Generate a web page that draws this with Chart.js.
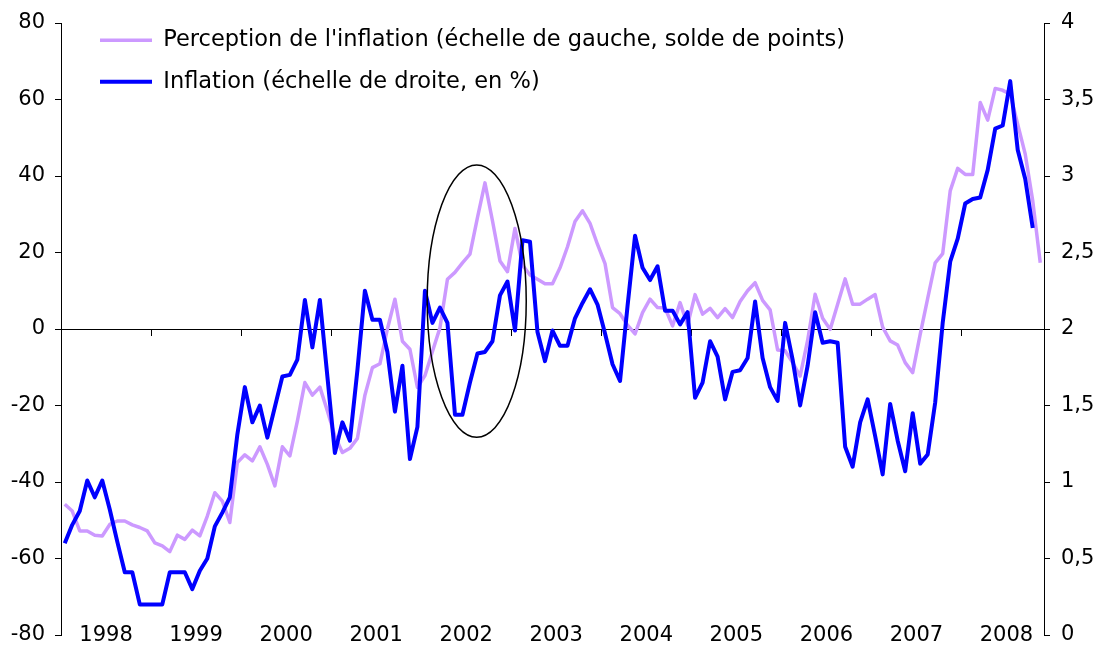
<!DOCTYPE html>
<html>
<head>
<meta charset="utf-8">
<script src="https://cdn.jsdelivr.net/npm/chart.js@4.4.0/dist/chart.umd.min.js"></script>
<style>
  html, body { margin: 0; padding: 0; background: #fff; }
</style>
</head>
<body>
<canvas id="myChart" width="1097" height="646"></canvas>
<script>
// janvier 1998 -> novembre 2008, une valeur par mois
var years = ['1998', '1999', '2000', '2001', '2002', '2003', '2004', '2005', '2006', '2007', '2008'];
var months = [];
years.forEach(function (y) {
    for (var m = 1; m <= 12; m++) {
        months.push(y + '-' + (m < 10 ? '0' + m : m));
    }
});
months = months.slice(0, 131);

// solde de points (echelle de gauche)
var perception = [
    -45.8, -47.6, -52.8, -52.8, -53.9, -54.1, -51.1, -50.2, -50.2, -51.2, -51.9, -52.8,
    -55.9, -56.7, -58.2, -53.9, -55.0, -52.6, -54.1, -48.9, -42.8, -45.0, -50.6, -34.9,
    -32.9, -34.5, -30.8, -35.4, -41.0, -30.8, -33.2, -24.1, -14.0, -17.3, -15.2, -21.4,
    -28.0, -32.3, -31.2, -28.6, -17.3, -10.1, -9.1, 0.0, 7.8, -3.2, -5.3, -15.3,
    -12.2, -5.9, 0.3, 13.0, 14.8, 17.3, 19.6, 29.1, 38.2, 28.3, 17.8, 15.0,
    26.3, 16.7, 14.1, 13.0, 11.8, 11.8, 16.0, 21.5, 28.1, 30.9, 27.6, 22.1,
    17.1, 5.6, 4.0, 1.0, -1.3, 4.3, 7.8, 5.6, 5.5, 0.8, 6.9, 1.0,
    9.0, 3.9, 5.4, 3.0, 5.3, 3.0, 7.2, 10.0, 12.1, 7.5, 5.0, -5.5,
    -5.7, -8.8, -12.3, -3.0, 9.1, 2.8, -0.1, 6.5, 13.1, 6.5, 6.5, 7.8,
    9.0, 0.5, -3.1, -4.2, -8.8, -11.4, -1.4, 8.0, 17.3, 19.7, 36.1, 42.0,
    40.4, 40.4, 59.2, 54.6, 62.9, 62.4, 61.4, 53.5, 45.7, 33.5, 17.3
];

// inflation en % (echelle de droite)
var inflation = [
    0.60, 0.72, 0.81, 1.01, 0.90, 1.01, 0.82, 0.61, 0.41, 0.41, 0.20, 0.20,
    0.20, 0.20, 0.41, 0.41, 0.41, 0.30, 0.42, 0.50, 0.71, 0.80, 0.90, 1.31,
    1.62, 1.39, 1.50, 1.29, 1.49, 1.69, 1.70, 1.80, 2.19, 1.88, 2.19, 1.69,
    1.19, 1.39, 1.27, 1.73, 2.25, 2.06, 2.06, 1.85, 1.46, 1.76, 1.15, 1.36,
    2.25, 2.04, 2.14, 2.04, 1.44, 1.44, 1.65, 1.84, 1.85, 1.92, 2.22, 2.31,
    1.99, 2.58, 2.57, 1.98, 1.79, 1.99, 1.89, 1.89, 2.07, 2.17, 2.26, 2.16,
    1.97, 1.77, 1.66, 2.15, 2.61, 2.40, 2.32, 2.41, 2.12, 2.12, 2.03, 2.11,
    1.55, 1.65, 1.92, 1.82, 1.54, 1.72, 1.73, 1.81, 2.18, 1.81, 1.62, 1.53,
    2.04, 1.80, 1.50, 1.76, 2.11, 1.91, 1.92, 1.91, 1.23, 1.10, 1.39, 1.54,
    1.30, 1.05, 1.51, 1.27, 1.07, 1.45, 1.12, 1.18, 1.52, 2.04, 2.44, 2.59,
    2.82, 2.85, 2.86, 3.04, 3.31, 3.33, 3.62, 3.17, 2.98, 2.66
];

var seriesNames = [
    "Perception de l'inflation (échelle de gauche, solde de points)",
    "Inflation (échelle de droite, en %)"
];

Chart.defaults.font.family = '"DejaVu Sans", Verdana, sans-serif';
Chart.defaults.font.size = 21;
Chart.defaults.color = '#000';

// ellipse autour de 2002, posee en unites des axes
var ellipsePlugin = {
    id: 'ellipse',
    afterDatasetsDraw: function (chart) {
        var x = chart.scales.x, y = chart.scales.y, ctx = chart.ctx;
        var cx = x.getPixelForValue(54.9), cy = y.getPixelForValue(7.3);
        var rx = x.getPixelForValue(54.9 + 6.6) - cx;
        var ry = cy - y.getPixelForValue(7.3 + 35.6);
        ctx.save();
        ctx.beginPath();
        ctx.ellipse(cx, cy, rx, ry, 0, 0, 2 * Math.PI);
        ctx.lineWidth = 1.5;
        ctx.strokeStyle = '#000';
        ctx.stroke();
        ctx.restore();
    }
};

// legende dans la zone du graphique, en haut a gauche
var legendPlace = {
    id: 'legendPlace',
    afterLayout: function (chart) {
        var a = chart.chartArea;
        chart.legend.left = a.left + 20;
        chart.legend.top = a.top - 13;
    }
};

// les axes verticaux ne reservent pas de marge pour leurs etiquettes extremes
function fixYAxis(width) {
    return function (s) {
        s.width = width;
        s.paddingTop = 0;
        s.paddingBottom = 0;
    };
}

var ctx = document.getElementById('myChart').getContext('2d');
var myChart = new Chart(ctx, {
    type: 'line',
    data: {
        labels: months,
        datasets: [{
            label: seriesNames[0],
            data: perception,
            yAxisID: 'y',
            borderColor: '#CC99FF',
            backgroundColor: '#CC99FF',
            borderWidth: 3.5,
            pointRadius: 0,
            order: 2
        },
        {
            label: seriesNames[1],
            data: inflation,
            yAxisID: 'y1',
            borderColor: '#0000FF',
            backgroundColor: '#0000FF',
            borderWidth: 4,
            pointRadius: 0,
            order: 1
        }]
    },
    options: {
        responsive: false,
        animation: false,
        devicePixelRatio: 1,
        layout: {
            padding: { left: 0, right: 0, top: 23, bottom: 0 }
        },
        elements: {
            line: { tension: 0, borderJoinStyle: 'round' }
        },
        plugins: {
            tooltip: { enabled: false },
            legend: {
                position: 'chartArea',
                align: 'start',
                labels: {
                    usePointStyle: true,
                    pointStyle: 'line',
                    pointStyleWidth: 52,
                    padding: 19,
                    color: '#000',
                    font: { size: 22.5 },
                    sort: function (a, b) { return a.datasetIndex - b.datasetIndex; }
                }
            }
        },
        scales: {
            x: {
                position: 'bottom',
                offset: true,
                grid: { display: false },
                border: { display: false },
                ticks: {
                    autoSkip: false,
                    maxRotation: 0,
                    minRotation: 0,
                    mirror: true,
                    padding: -13,
                    labelOffset: 3.75,
                    callback: function (v, i) {
                        return i % 12 === 5 ? months[i].slice(0, 4) : '';
                    }
                },
                afterFit: function (s) { s.height = 11; }
            },
            x2: {
                type: 'category',
                labels: months,
                position: { y: 0 },
                offset: true,
                ticks: { display: false, autoSkip: false },
                border: { color: '#000', width: 1 },
                grid: {
                    offset: true,
                    drawOnChartArea: false,
                    tickLength: 6,
                    color: function (c) {
                        if (c.tick === undefined || c.index === 0) return 'rgba(0,0,0,0)';
                        return c.index % 12 === 0 ? '#000' : 'rgba(0,0,0,0)';
                    }
                }
            },
            y: {
                position: 'left',
                min: -80,
                max: 80,
                ticks: { stepSize: 20, padding: 10 },
                border: { color: '#000', width: 1 },
                grid: { drawOnChartArea: false, tickLength: 6, color: '#000' },
                afterFit: fixYAxis(61)
            },
            y1: {
                position: 'right',
                min: 0,
                max: 4,
                ticks: {
                    stepSize: 0.5,
                    padding: 11,
                    callback: function (v) { return String(v).replace('.', ','); }
                },
                border: { color: '#000', width: 1 },
                grid: { drawOnChartArea: false, tickLength: 6, color: '#000' },
                afterFit: fixYAxis(53)
            }
        }
    },
    plugins: [ellipsePlugin, legendPlace]
});
</script>
</body>
</html>
